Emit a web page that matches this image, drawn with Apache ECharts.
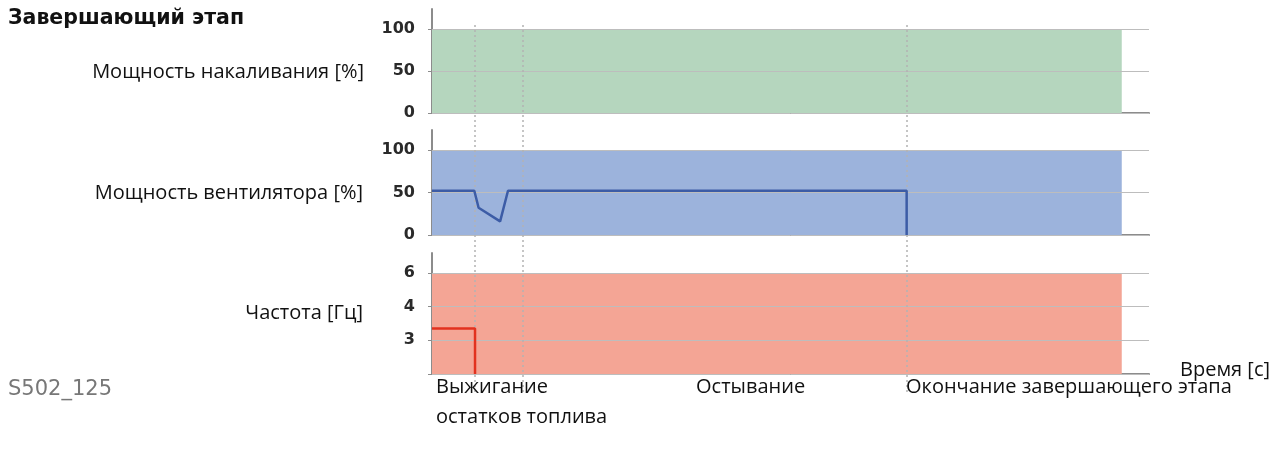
<!DOCTYPE html>
<html><head><meta charset="utf-8">
<script src="https://cdn.jsdelivr.net/npm/echarts@6/dist/echarts.min.js"></script>
<style>html,body{margin:0;padding:0;background:#fff}#c{width:1277px;height:450px}</style>
</head><body><div id="c"></div>
<script>
// ---- data ----
const timeMax = 100;
const phaseMarks = [5.9, 12.6, 66.2];
const glowT = [0, 96.2];
const glowV = [100, 100];
const fanFillT = [0, 96.2];
const fanFillV = [100, 100];
const fanT = [0, 5.9, 6.5, 9.5, 10.6, 66.2, 66.2];
const fanV = [52, 52, 32, 16, 52, 52, 0];
const freqFillT = [0, 96.2];
const freqFillV = [6, 6];
const freqT = [0, 6.0, 6.0];
const freqV = [3.35, 3.35, 2];
const freqTickValues = [2, 3, 4, 6];
const freqTickLabels = ['', '3', '4', '6'];
const pctTicks = [0, 50, 100];

// map a frequency onto its evenly spaced tick slots
function freqPos(v) {
  for (let i = 0; i < freqTickValues.length - 1; i++) {
    const a = freqTickValues[i], b = freqTickValues[i + 1];
    if (v <= b) return i + (v - a) / (b - a);
  }
  return freqTickValues.length - 1;
}
const zip = (t, v) => t.map((x, i) => [x, v[i]]);

const AX = '#8c8c8c';
const FONT = "'Open Sans', sans-serif";
const L = 432, W = 717;

const frames = [[9, 104], [130, 105], [253, 121]];
const datas = [[29, 84], [150, 85], [273, 101]];

const grid = [];
frames.forEach(f => grid.push({left: L, top: f[0], width: W, height: f[1]}));
datas.forEach(f => grid.push({left: L, top: f[0], width: W, height: f[1]}));
grid.push({left: L, top: 22, width: W, height: 370});

const xAxis = [], yAxis = [];
for (let i = 0; i < 3; i++) {
  xAxis.push({gridIndex: i, type: 'value', min: 0, max: timeMax, show: false});
  yAxis.push({gridIndex: i, type: 'value', min: 0, max: 1,
    axisLine: {show: true, lineStyle: {color: AX, width: 2}},
    axisTick: {show: false}, axisLabel: {show: false}, splitLine: {show: false}});
}
for (let i = 3; i < 6; i++) {
  xAxis.push({gridIndex: i, type: 'value', min: 0, max: timeMax,
    axisLine: {show: true, onZero: false, lineStyle: {color: AX, width: 2}},
    axisTick: {show: false}, axisLabel: {show: false}, splitLine: {show: false}});
}
const labelStyle = {color: '#2a2a2a', fontWeight: 'bold', fontSize: 16, fontFamily: "'DejaVu Sans', sans-serif", margin: 17, padding: [4, 0, 0, 0]};
[3, 4].forEach(i => yAxis.push({gridIndex: i, type: 'value', min: pctTicks[0], max: pctTicks[2], interval: 50, z: 3,
  axisLine: {show: false},
  axisTick: {show: true, length: 4, lineStyle: {color: AX}},
  axisLabel: labelStyle,
  splitLine: {show: true, lineStyle: {color: '#bdbdbd', width: 1}}}));
yAxis.push({gridIndex: 5, type: 'value', min: 0, max: freqTickValues.length - 1, interval: 1, z: 3,
  axisLine: {show: false},
  axisTick: {show: true, length: 4, lineStyle: {color: AX}},
  axisLabel: Object.assign({}, labelStyle, {formatter: v => freqTickLabels[Math.round(v)] || ''}),
  splitLine: {show: true, lineStyle: {color: '#bdbdbd', width: 1}}});
xAxis.push({gridIndex: 6, type: 'value', min: 0, max: timeMax, show: false});
yAxis.push({gridIndex: 6, type: 'value', min: 0, max: 1, show: false});

function fill(idx, data, color) {
  return {type: 'line', xAxisIndex: idx, yAxisIndex: idx, data, symbol: 'none', silent: true,
    lineStyle: {width: 0}, areaStyle: {color, opacity: 1, origin: 'start'}, z: 1};
}

const series = [
  fill(3, zip(glowT, glowV), '#b5d6be'),
  fill(4, zip(fanFillT, fanFillV), '#9cb3dc'),
  fill(5, zip(freqFillT, freqFillV.map(freqPos)), '#f4a595'),
  {type: 'line', xAxisIndex: 4, yAxisIndex: 4, data: zip(fanT, fanV), symbol: 'none', z: 5,
    lineStyle: {color: '#3c5ca6', width: 2.5}},
  {type: 'line', xAxisIndex: 5, yAxisIndex: 5, data: zip(freqT, freqV.map(freqPos)), symbol: 'none', z: 5,
    lineStyle: {color: '#e2321f', width: 2.5}},
  {type: 'line', xAxisIndex: 6, yAxisIndex: 6, data: [[0, 0]], symbol: 'none', z: 4,
    lineStyle: {width: 0},
    markLine: {silent: true, symbol: ['none', 'none'], label: {show: false},
      lineStyle: {color: '#b3b3b3', type: [2, 3], width: 1.5},
      data: phaseMarks.map(x => ({xAxis: x}))}}
];

const ts = (extra) => Object.assign({color: '#111', fontFamily: FONT, fontSize: 20, fontWeight: 'normal'}, extra || {});
const title = [
  {text: 'Завершающий этап', left: 3, top: 3, textStyle: ts({fontWeight: 'bold', fontSize: 20.5, fontFamily: "'DejaVu Sans', sans-serif"})},
  {text: 'Мощность накаливания [%]', right: 908, top: 57, textStyle: ts()},
  {text: 'Мощность вентилятора [%]', right: 909, top: 178, textStyle: ts()},
  {text: 'Частота [Гц]', right: 909, top: 298, textStyle: ts()},
  {text: 'S502_125', left: 3, top: 374, textStyle: ts({color: '#777', fontFamily: "'DejaVu Sans', sans-serif", fontSize: 21})},
  {text: 'Время [с]', right: 2, top: 355, textStyle: ts()},
  {text: 'Выжигание', left: 431, top: 372, textStyle: ts()},
  {text: 'остатков топлива', left: 431, top: 402, textStyle: ts()},
  {text: 'Остывание', left: 691, top: 372, textStyle: ts()},
  {text: 'Окончание завершающего этапа', left: 901, top: 372, textStyle: ts()}
];

const chart = echarts.init(document.getElementById('c'), null, {renderer: 'canvas'});
chart.setOption({animation: false, backgroundColor: '#fff', title, grid, xAxis, yAxis, series});
</script>
</body></html>
